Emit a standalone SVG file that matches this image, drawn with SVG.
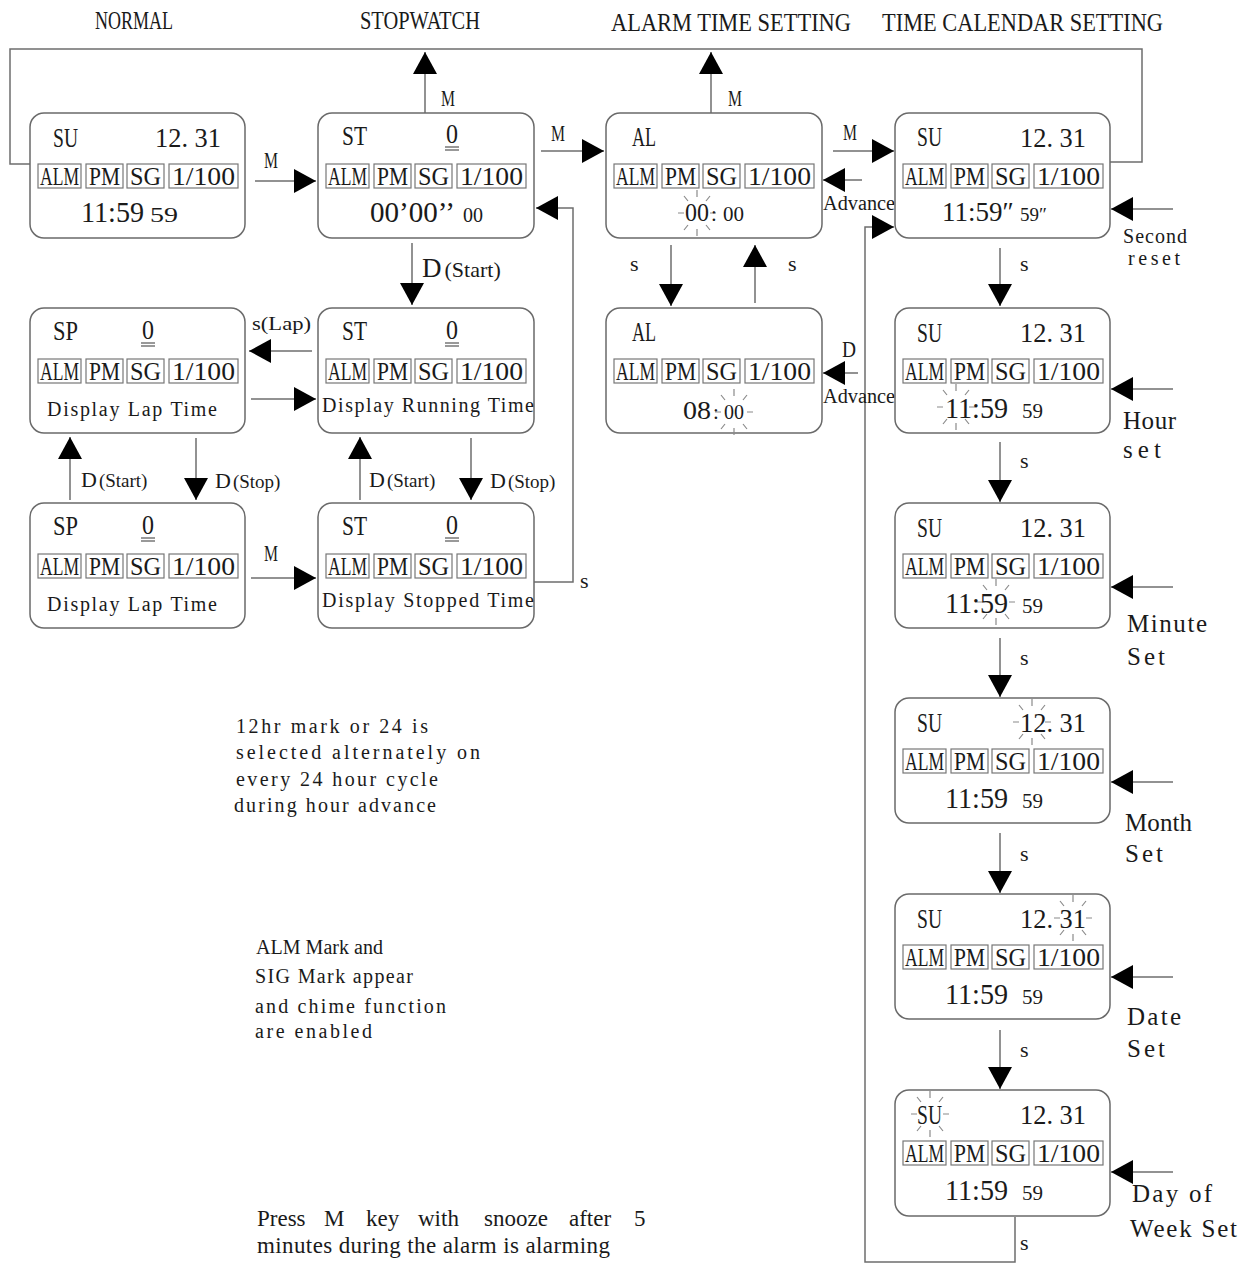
<svg xmlns="http://www.w3.org/2000/svg" xmlns:xlink="http://www.w3.org/1999/xlink" width="1253" height="1263" viewBox="0 0 1253 1263">
<style>
text{font-family:"Liberation Serif","Times New Roman",serif;fill:#1a1a1a}
.box{fill:#fff;stroke:#6a6a6a;stroke-width:1.5}
.ib{fill:none;stroke:#777;stroke-width:1.2}
.it{font-size:25px}
.hd{font-size:25px}
.t1{font-size:27px}
.tb{font-size:30px}
.ts{font-size:21px}
.al{font-size:25px}
.dl{font-size:20px}
.lb{font-size:22px}
.mk{font-size:24px}
.sm{font-size:19px}
.nt{font-size:20px}
.pr{font-size:23px}
.sd{font-size:25px}
.ln{fill:none;stroke:#6e6e6e;stroke-width:1.5}
.ar{fill:none;stroke:#6e6e6e;stroke-width:1.5;marker-end:url(#ah)}
.ul{stroke:#555;stroke-width:1.2}
.ray{stroke:#8a8a8a;stroke-width:1.2;fill:none}
</style>
<defs>
<marker id="ah" markerUnits="userSpaceOnUse" markerWidth="22" markerHeight="24" refX="22" refY="12" orient="auto">
<path d="M0,0 L22,12 L0,24 Z" fill="#000"/>
</marker>
<g id="ind">
<rect class="ib" x="8" y="51" width="43" height="24"/>
<rect class="ib" x="56" y="51" width="37" height="24"/>
<rect class="ib" x="97" y="51" width="37" height="24"/>
<rect class="ib" x="139" y="51" width="69" height="24"/>
<text class="it" x="10" y="72" textLength="39" lengthAdjust="spacingAndGlyphs">ALM</text>
<text class="it" x="59" y="72" textLength="31" lengthAdjust="spacingAndGlyphs">PM</text>
<text class="it" x="100" y="72" textLength="31" lengthAdjust="spacingAndGlyphs">SG</text>
<text class="it" x="142" y="72" textLength="63" lengthAdjust="spacingAndGlyphs">1/100</text>
</g>
<g id="burst">
<path class="ray" d="M0,-16 L0,-23 M0,16 L0,23 M-13,0 L-19,0 M13,0 L19,0 M-9,-12 L-13,-17 M9,-12 L13,-17 M-9,12 L-13,17 M9,12 L13,17"/>
</g>
<g id="zero">
<text class="t1" x="0" y="0" textLength="12" lengthAdjust="spacingAndGlyphs">0</text>
<line class="ul" x1="-1" y1="4" x2="13" y2="4"/>
<line class="ul" x1="-1" y1="7" x2="13" y2="7"/>
</g>
</defs>
<rect width="1253" height="1263" fill="#fff"/>

<g id="headers">
<text class="hd" x="95" y="29" textLength="78" lengthAdjust="spacingAndGlyphs">NORMAL</text>
<text class="hd" x="360" y="29" textLength="120" lengthAdjust="spacingAndGlyphs">STOPWATCH</text>
<text class="hd" x="611" y="31" textLength="240" lengthAdjust="spacingAndGlyphs">ALARM TIME SETTING</text>
<text class="hd" x="882" y="31" textLength="281" lengthAdjust="spacingAndGlyphs">TIME CALENDAR SETTING</text>
</g>

<g id="connectors">
<polyline class="ln" points="1110,162 1142,162 1142,49 10,49 10,164 30,164"/>
<line class="ar" x1="425" y1="113" x2="425" y2="52"/>
<line class="ar" x1="711" y1="113" x2="711" y2="52"/>
<line class="ar" x1="255" y1="181" x2="316" y2="181"/>
<line class="ar" x1="541" y1="151" x2="604" y2="151"/>
<line class="ar" x1="833" y1="151" x2="894" y2="151"/>
<line class="ar" x1="862" y1="180" x2="823" y2="180"/>
<polyline class="ar" points="1015,1217 1015,1262 865,1262 865,227 894,227"/>
<line class="ar" x1="1173" y1="209" x2="1111" y2="209"/>
<line class="ar" x1="671" y1="245" x2="671" y2="306"/>
<line class="ar" x1="755" y1="303" x2="755" y2="245"/>
<line class="ar" x1="858" y1="373" x2="823" y2="373"/>
<line class="ar" x1="1000" y1="248" x2="1000" y2="306"/>
<line class="ar" x1="1000" y1="442" x2="1000" y2="502"/>
<line class="ar" x1="1000" y1="638" x2="1000" y2="697"/>
<line class="ar" x1="1000" y1="833" x2="1000" y2="893"/>
<line class="ar" x1="1000" y1="1030" x2="1000" y2="1089"/>
<line class="ar" x1="1173" y1="389" x2="1111" y2="389"/>
<line class="ar" x1="1173" y1="587" x2="1111" y2="587"/>
<line class="ar" x1="1173" y1="782" x2="1111" y2="782"/>
<line class="ar" x1="1173" y1="977" x2="1111" y2="977"/>
<line class="ar" x1="1173" y1="1172" x2="1111" y2="1172"/>
<line class="ar" x1="412" y1="243" x2="412" y2="305"/>
<line class="ar" x1="312" y1="351" x2="249" y2="351"/>
<line class="ar" x1="251" y1="399" x2="316" y2="399"/>
<line class="ar" x1="196" y1="438" x2="196" y2="500"/>
<line class="ar" x1="70" y1="500" x2="70" y2="437"/>
<line class="ar" x1="471" y1="438" x2="471" y2="500"/>
<line class="ar" x1="360" y1="500" x2="360" y2="437"/>
<line class="ar" x1="251" y1="578" x2="316" y2="578"/>
<polyline class="ar" points="534,582 573,582 573,208 536,208"/>
</g>

<g id="connector-labels">
<text class="mk" x="441" y="106" textLength="14" lengthAdjust="spacingAndGlyphs">M</text>
<text class="mk" x="728" y="106" textLength="14" lengthAdjust="spacingAndGlyphs">M</text>
<text class="mk" x="264" y="168" textLength="14" lengthAdjust="spacingAndGlyphs">M</text>
<text class="mk" x="551" y="141" textLength="14" lengthAdjust="spacingAndGlyphs">M</text>
<text class="mk" x="843" y="140" textLength="14" lengthAdjust="spacingAndGlyphs">M</text>
<text class="dl" x="823" y="210" textLength="72" lengthAdjust="spacingAndGlyphs">Advance</text>
<text class="dl" x="823" y="403" textLength="72" lengthAdjust="spacingAndGlyphs">Advance</text>
<text class="mk" x="842" y="357" textLength="14" lengthAdjust="spacingAndGlyphs">D</text>
<text class="lb" x="630" y="271">s</text>
<text class="lb" x="788" y="271">s</text>
<text class="lb" x="1020" y="271">s</text>
<text class="lb" x="1020" y="468">s</text>
<text class="lb" x="1020" y="665">s</text>
<text class="lb" x="1020" y="861">s</text>
<text class="lb" x="1020" y="1057">s</text>
<text class="lb" x="1020" y="1250">s</text>
<text class="lb" x="580" y="588">s</text>
<text class="dl" x="1123" y="243" textLength="64" lengthAdjust="spacing">Second</text>
<text class="dl" x="1128" y="265" textLength="52" lengthAdjust="spacing">reset</text>
<text class="sd" x="1123" y="429" textLength="53" lengthAdjust="spacing">Hour</text>
<text class="sd" x="1123" y="458" textLength="38" lengthAdjust="spacing">set</text>
<text class="sd" x="1127" y="632" textLength="80" lengthAdjust="spacing">Minute</text>
<text class="sd" x="1127" y="665" textLength="38" lengthAdjust="spacing">Set</text>
<text class="sd" x="1125" y="831" textLength="67" lengthAdjust="spacing">Month</text>
<text class="sd" x="1125" y="862" textLength="38" lengthAdjust="spacing">Set</text>
<text class="sd" x="1127" y="1025" textLength="54" lengthAdjust="spacing">Date</text>
<text class="sd" x="1127" y="1057" textLength="38" lengthAdjust="spacing">Set</text>
<text class="sd" x="1132" y="1202" textLength="80" lengthAdjust="spacing">Day of</text>
<text class="sd" x="1130" y="1237" textLength="107" lengthAdjust="spacing">Week Set</text>
<text x="422" y="277"><tspan class="t1">D</tspan><tspan class="lb" dx="3">(Start)</tspan></text>
<text class="sm" x="252" y="330" textLength="59" lengthAdjust="spacingAndGlyphs">s(Lap)</text>
<text x="81" y="487"><tspan class="lb">D</tspan><tspan class="sm" dx="2">(Start)</tspan></text>
<text x="215" y="488"><tspan class="lb">D</tspan><tspan class="sm" dx="2">(Stop)</tspan></text>
<text x="369" y="487"><tspan class="lb">D</tspan><tspan class="sm" dx="2">(Start)</tspan></text>
<text x="490" y="488"><tspan class="lb">D</tspan><tspan class="sm" dx="2">(Stop)</tspan></text>
<text class="mk" x="264" y="561" textLength="14" lengthAdjust="spacingAndGlyphs">M</text>
</g>

<g id="node-normal" transform="translate(30,113)">
<rect class="box" width="215" height="125" rx="14"/>
<text class="t1" x="23" y="34" textLength="25" lengthAdjust="spacingAndGlyphs">SU</text>
<text class="t1" x="125" y="34" textLength="66" lengthAdjust="spacingAndGlyphs">12. 31</text>
<use xlink:href="#ind"/>
<text class="tb" x="51" y="109" textLength="63" lengthAdjust="spacingAndGlyphs">11:59</text>
<text class="ts" x="120" y="109" textLength="28" lengthAdjust="spacingAndGlyphs">59</text>
</g>

<g id="node-st-reset" transform="translate(318,113)">
<rect class="box" width="216" height="125" rx="14"/>
<text class="t1" x="24" y="32" textLength="25" lengthAdjust="spacingAndGlyphs">ST</text>
<use xlink:href="#zero" x="128" y="30"/>
<use xlink:href="#ind"/>
<text class="tb" x="52" y="109" textLength="85" lengthAdjust="spacingAndGlyphs">00’00’’</text>
<text class="ts" x="145" y="109" textLength="20" lengthAdjust="spacingAndGlyphs">00</text>
</g>

<g id="node-al-hour" transform="translate(606,113)">
<rect class="box" width="216" height="125" rx="14"/>
<text class="t1" x="26" y="33" textLength="24" lengthAdjust="spacingAndGlyphs">AL</text>
<use xlink:href="#ind"/>
<use xlink:href="#burst" x="91" y="100"/>
<text class="al" x="79" y="108" textLength="24" lengthAdjust="spacingAndGlyphs">00</text>
<text class="ts" x="105" y="108">:</text>
<text class="ts" x="117" y="108" textLength="21" lengthAdjust="spacingAndGlyphs">00</text>
</g>

<g id="node-tc-second" transform="translate(895,113)">
<rect class="box" width="215" height="125" rx="14"/>
<text class="t1" x="22" y="33" textLength="25" lengthAdjust="spacingAndGlyphs">SU</text>
<text class="t1" x="125" y="34" textLength="66" lengthAdjust="spacingAndGlyphs">12. 31</text>
<use xlink:href="#ind"/>
<text x="47" y="108" style="font-size:27px">11:59″</text>
<text x="125" y="108" style="font-size:19px">59″</text>
</g>

<g id="node-sp-lap1" transform="translate(30,308)">
<rect class="box" width="215" height="125" rx="14"/>
<text class="t1" x="23" y="32" textLength="25" lengthAdjust="spacingAndGlyphs">SP</text>
<use xlink:href="#zero" x="112" y="31"/>
<use xlink:href="#ind"/>
<text class="dl" x="17" y="108" textLength="170" lengthAdjust="spacing">Display Lap Time</text>
</g>

<g id="node-st-running" transform="translate(318,308)">
<rect class="box" width="216" height="125" rx="14"/>
<text class="t1" x="24" y="32" textLength="25" lengthAdjust="spacingAndGlyphs">ST</text>
<use xlink:href="#zero" x="128" y="31"/>
<use xlink:href="#ind"/>
<text class="dl" x="4" y="104" textLength="212" lengthAdjust="spacing">Display Running Time</text>
</g>

<g id="node-al-minute" transform="translate(606,308)">
<rect class="box" width="216" height="125" rx="14"/>
<text class="t1" x="26" y="33" textLength="24" lengthAdjust="spacingAndGlyphs">AL</text>
<use xlink:href="#ind"/>
<use xlink:href="#burst" x="128" y="104"/>
<text class="al" x="77" y="111" textLength="28" lengthAdjust="spacingAndGlyphs">08</text>
<text class="ts" x="107" y="111">:</text>
<text class="ts" x="118" y="111" textLength="20" lengthAdjust="spacingAndGlyphs">00</text>
</g>

<g id="node-tc-hour" transform="translate(895,308)">
<rect class="box" width="215" height="125" rx="14"/>
<text class="t1" x="22" y="34" textLength="25" lengthAdjust="spacingAndGlyphs">SU</text>
<text class="t1" x="125" y="34" textLength="66" lengthAdjust="spacingAndGlyphs">12. 31</text>
<use xlink:href="#ind"/>
<use xlink:href="#burst" x="61" y="99"/>
<text class="tb" x="50" y="110" textLength="63" lengthAdjust="spacingAndGlyphs">11:59</text>
<text class="ts" x="127" y="110" textLength="21" lengthAdjust="spacingAndGlyphs">59</text>
</g>

<g id="node-sp-lap2" transform="translate(30,503)">
<rect class="box" width="215" height="125" rx="14"/>
<text class="t1" x="23" y="32" textLength="25" lengthAdjust="spacingAndGlyphs">SP</text>
<use xlink:href="#zero" x="112" y="31"/>
<use xlink:href="#ind"/>
<text class="dl" x="17" y="108" textLength="170" lengthAdjust="spacing">Display Lap Time</text>
</g>

<g id="node-st-stopped" transform="translate(318,503)">
<rect class="box" width="216" height="125" rx="14"/>
<text class="t1" x="24" y="32" textLength="25" lengthAdjust="spacingAndGlyphs">ST</text>
<use xlink:href="#zero" x="128" y="31"/>
<use xlink:href="#ind"/>
<text class="dl" x="4" y="104" textLength="212" lengthAdjust="spacing">Display Stopped Time</text>
</g>

<g id="node-tc-minute" transform="translate(895,503)">
<rect class="box" width="215" height="125" rx="14"/>
<text class="t1" x="22" y="34" textLength="25" lengthAdjust="spacingAndGlyphs">SU</text>
<text class="t1" x="125" y="34" textLength="66" lengthAdjust="spacingAndGlyphs">12. 31</text>
<use xlink:href="#ind"/>
<use xlink:href="#burst" x="101" y="99"/>
<text class="tb" x="50" y="110" textLength="63" lengthAdjust="spacingAndGlyphs">11:59</text>
<text class="ts" x="127" y="110" textLength="21" lengthAdjust="spacingAndGlyphs">59</text>
</g>

<g id="node-tc-month" transform="translate(895,698)">
<rect class="box" width="215" height="125" rx="14"/>
<text class="t1" x="22" y="34" textLength="25" lengthAdjust="spacingAndGlyphs">SU</text>
<use xlink:href="#burst" x="137" y="24"/>
<text class="t1" x="125" y="34" textLength="66" lengthAdjust="spacingAndGlyphs">12. 31</text>
<use xlink:href="#ind"/>
<text class="tb" x="50" y="110" textLength="63" lengthAdjust="spacingAndGlyphs">11:59</text>
<text class="ts" x="127" y="110" textLength="21" lengthAdjust="spacingAndGlyphs">59</text>
</g>

<g id="node-tc-date" transform="translate(895,894)">
<rect class="box" width="215" height="125" rx="14"/>
<text class="t1" x="22" y="34" textLength="25" lengthAdjust="spacingAndGlyphs">SU</text>
<use xlink:href="#burst" x="178" y="24"/>
<text class="t1" x="125" y="34" textLength="66" lengthAdjust="spacingAndGlyphs">12. 31</text>
<use xlink:href="#ind"/>
<text class="tb" x="50" y="110" textLength="63" lengthAdjust="spacingAndGlyphs">11:59</text>
<text class="ts" x="127" y="110" textLength="21" lengthAdjust="spacingAndGlyphs">59</text>
</g>

<g id="node-tc-day" transform="translate(895,1090)">
<rect class="box" width="215" height="126" rx="14"/>
<use xlink:href="#burst" x="35" y="24"/>
<text class="t1" x="22" y="34" textLength="25" lengthAdjust="spacingAndGlyphs">SU</text>
<text class="t1" x="125" y="34" textLength="66" lengthAdjust="spacingAndGlyphs">12. 31</text>
<use xlink:href="#ind"/>
<text class="tb" x="50" y="110" textLength="63" lengthAdjust="spacingAndGlyphs">11:59</text>
<text class="ts" x="127" y="110" textLength="21" lengthAdjust="spacingAndGlyphs">59</text>
</g>

<g id="notes">
<text class="nt" x="236" y="733" textLength="192" lengthAdjust="spacing">12hr mark or 24 is</text>
<text class="nt" x="236" y="759" textLength="244" lengthAdjust="spacing">selected alternately on</text>
<text class="nt" x="236" y="786" textLength="202" lengthAdjust="spacing">every 24 hour cycle</text>
<text class="nt" x="234" y="812" textLength="202" lengthAdjust="spacing">during hour advance</text>
<text class="nt" x="256" y="954" textLength="127" lengthAdjust="spacing">ALM Mark and</text>
<text class="nt" x="255" y="983" textLength="158" lengthAdjust="spacing">SIG Mark appear</text>
<text class="nt" x="255" y="1013" textLength="191" lengthAdjust="spacing">and chime function</text>
<text class="nt" x="255" y="1038" textLength="117" lengthAdjust="spacing">are enabled</text>
<text class="pr" y="1226"><tspan x="257">Press</tspan><tspan x="324">M</tspan><tspan x="366">key</tspan><tspan x="418">with</tspan><tspan x="484">snooze</tspan><tspan x="569">after</tspan><tspan x="634">5</tspan></text>
<text class="pr" x="257" y="1253" textLength="353" lengthAdjust="spacing">minutes during the alarm is alarming</text>
</g>
</svg>
